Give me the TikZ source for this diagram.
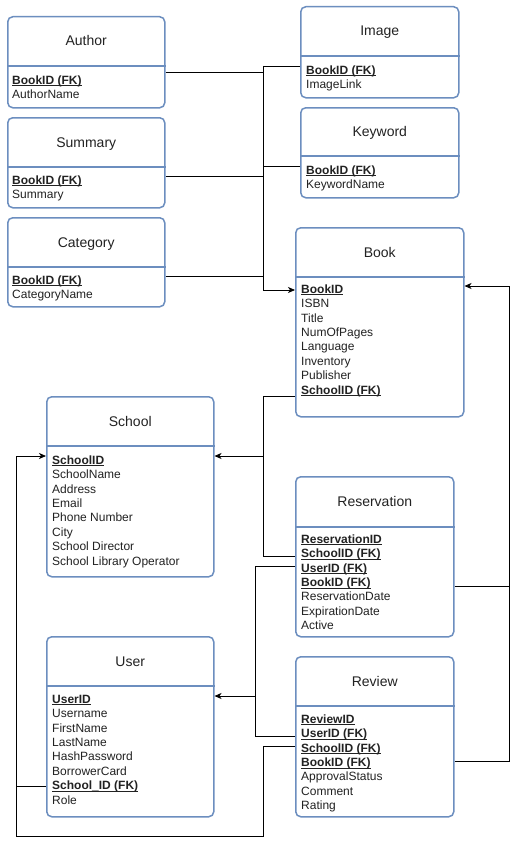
\documentclass[tikz,border=0pt]{standalone}
\usepackage{fontspec}
\setmainfont{Liberation Sans}
\usetikzlibrary{arrows.meta}
\definecolor{ebl}{HTML}{6C8EBF}
\definecolor{etx}{HTML}{222222}
\newcommand\keyul[1]{\underline{\smash{#1}}}
\begin{document}
\begin{tikzpicture}[x=1pt,y=-1pt,
 entity/.style={draw=ebl, line width=1.5pt, rounded corners=5pt, fill=white, anchor=north west, inner sep=0pt},
 hline/.style={draw=ebl, line width=1.5pt},
 ttl/.style={font=\fontsize{14}{16}\selectfont, text=etx, inner sep=0pt, text height=10pt, text depth=3pt, yshift=-1.5pt},
 row/.style={font=\fontsize{12}{14}\selectfont, text=etx, anchor=west, inner sep=0pt, text height=9pt, text depth=3pt, yshift=-1.2pt},
 key/.style={font=\fontsize{12}{14}\selectfont\bfseries, text=etx, anchor=west, inner sep=0pt, text height=9pt, text depth=3pt, yshift=-1.2pt},
 conn/.style={draw=black, line width=0.8pt},
 arr/.style={conn, -{Stealth[length=7pt,width=6pt,inset=2pt]}}]
\useasboundingbox[fill=white] (0,0) rectangle (530,843);

% ---------- Author
\node[entity, minimum width=157pt, minimum height=91pt] (author) at (7,16) {};
\draw[hline] (author.west |- 0,66) -- (author.east |- 0,66);
\node[ttl] (authorT) at (author.north |- 0,41) {Author};
\node[key] (au1) at (12,80) {\keyul{BookID (FK)}};
\node[row] (au2) at (12,94.4) {AuthorName};

% ---------- Summary
\node[entity, minimum width=157pt, minimum height=90pt] (summary) at (7,117) {};
\draw[hline] (summary.west |- 0,167) -- (summary.east |- 0,167);
\node[ttl] (summaryT) at (summary.north |- 0,142) {Summary};
\node[key] (su1) at (12,180) {\keyul{BookID (FK)}};
\node[row] (su2) at (12,194.4) {Summary};

% ---------- Category
\node[entity, minimum width=157pt, minimum height=89pt] (category) at (7,217) {};
\draw[hline] (category.west |- 0,267) -- (category.east |- 0,267);
\node[ttl] (categoryT) at (category.north |- 0,242) {Category};
\node[key] (ca1) at (12,280) {\keyul{BookID (FK)}};
\node[row] (ca2) at (12,294.4) {CategoryName};

% ---------- Image
\node[entity, minimum width=158pt, minimum height=91pt] (image) at (300,6) {};
\draw[hline] (image.west |- 0,56) -- (image.east |- 0,56);
\node[ttl] (imageT) at (image.north |- 0,31) {Image};
\node[key] (im1) at (306,70) {\keyul{BookID (FK)}};
\node[row] (im2) at (306,84.4) {ImageLink};

% ---------- Keyword
\node[entity, minimum width=158pt, minimum height=90pt] (keyword) at (300,107) {};
\draw[hline] (keyword.west |- 0,156) -- (keyword.east |- 0,156);
\node[ttl] (keywordT) at (keyword.north |- 0,131) {Keyword};
\node[key] (kw1) at (306,170) {\keyul{BookID (FK)}};
\node[row] (kw2) at (306,184.4) {KeywordName};

% ---------- Book
\node[entity, minimum width=168pt, minimum height=189pt] (book) at (295,227) {};
\draw[hline] (book.west |- 0,277) -- (book.east |- 0,277);
\node[ttl] (bookT) at (book.north |- 0,252) {Book};
\node[key] (bk1) at (301,289) {\keyul{BookID}};
\node[row] (bk2) at (301,303.4) {ISBN};
\node[row] (bk3) at (301,317.8) {Title};
\node[row] (bk4) at (301,332.2) {NumOfPages};
\node[row] (bk5) at (301,346.6) {Language};
\node[row] (bk6) at (301,361) {Inventory};
\node[row] (bk7) at (301,375.4) {Publisher};
\node[key] (bk8) at (301,389.8) {\keyul{SchoolID (FK)}};

% ---------- School
\node[entity, minimum width=167pt, minimum height=180pt] (school) at (46,396) {};
\draw[hline] (school.west |- 0,446) -- (school.east |- 0,446);
\node[ttl] (schoolT) at (school.north |- 0,421) {School};
\node[key] (sc1) at (52,460) {\keyul{SchoolID}};
\node[row] (sc2) at (52,474.4) {SchoolName};
\node[row] (sc3) at (52,488.8) {Address};
\node[row] (sc4) at (52,503.2) {Email};
\node[row] (sc5) at (52,517.6) {Phone Number};
\node[row] (sc6) at (52,532) {City};
\node[row] (sc7) at (52,546.4) {School Director};
\node[row] (sc8) at (52,560.8) {School Library Operator};

% ---------- Reservation
\node[entity, minimum width=158pt, minimum height=160pt] (reservation) at (295,476) {};
\draw[hline] (reservation.west |- 0,527) -- (reservation.east |- 0,527);
\node[ttl] (reservationT) at (reservation.north |- 0,501) {Reservation};
\node[key] (re1) at (301,539) {\keyul{ReservationID}};
\node[key] (re2) at (301,553.4) {\keyul{SchoolID (FK)}};
\node[key] (re3) at (301,567.8) {\keyul{UserID (FK)}};
\node[key] (re4) at (301,582.2) {\keyul{BookID (FK)}};
\node[row] (re5) at (301,596.6) {ReservationDate};
\node[row] (re6) at (301,611) {ExpirationDate};
\node[row] (re7) at (301,625.4) {Active};

% ---------- User
\node[entity, minimum width=167pt, minimum height=180pt] (user) at (46,636) {};
\draw[hline] (user.west |- 0,686) -- (user.east |- 0,686);
\node[ttl] (userT) at (user.north |- 0,661) {User};
\node[key] (us1) at (52,699) {\keyul{UserID}};
\node[row] (us2) at (52,713.4) {Username};
\node[row] (us3) at (52,727.8) {FirstName};
\node[row] (us4) at (52,742.2) {LastName};
\node[row] (us5) at (52,756.6) {HashPassword};
\node[row] (us6) at (52,771) {BorrowerCard};
\node[key] (us7) at (52,785.4) {\keyul{School\_ID (FK)}};
\node[row] (us8) at (52,799.8) {Role};

% ---------- Review
\node[entity, minimum width=158pt, minimum height=160pt] (review) at (295,656) {};
\draw[hline] (review.west |- 0,706) -- (review.east |- 0,706);
\node[ttl] (reviewT) at (review.north |- 0,681) {Review};
\node[key] (rv1) at (301,719) {\keyul{ReviewID}};
\node[key] (rv2) at (301,733.4) {\keyul{UserID (FK)}};
\node[key] (rv3) at (301,747.8) {\keyul{SchoolID (FK)}};
\node[key] (rv4) at (301,762.2) {\keyul{BookID (FK)}};
\node[row] (rv5) at (301,776.6) {ApprovalStatus};
\node[row] (rv6) at (301,791) {Comment};
\node[row] (rv7) at (301,805.4) {Rating};

% ---------- connector routing points
\coordinate (busA) at (263,0);
\coordinate (busU) at (255,0);
\coordinate (busR) at (509,0);
\coordinate (busL) at (16,0);
\coordinate (bottom) at (0,836);

% Book satellites
\draw[conn] (author.east |- 0,72) -- (busA |- 0,72);
\draw[conn] (image.west |- 0,66) -- (busA |- 0,66);
\draw[conn] (keyword.west |- 0,166) -- (busA |- 0,166);
\draw[conn] (summary.east |- 0,176) -- (busA |- 0,176);
\draw[conn] (category.east |- 0,276) -- (busA |- 0,276);
\draw[arr] (busA |- 0,66) -- (busA |- 0,290) -- (book.west |- 0,290);

% School references
\draw[conn] (book.west |- 0,396) -- (busA |- 0,396) -- (busA |- 0,556) -- (reservation.west |- 0,556);
\draw[arr] (busA |- 0,456) -- (school.east |- 0,456);

% User references
\draw[conn] (reservation.west |- 0,566) -- (busU |- 0,566) -- (busU |- 0,736) -- (review.west |- 0,736);
\draw[arr] (busU |- 0,696) -- (user.east |- 0,696);

% Review / User school
\draw[conn] (review.west |- 0,746) -- (busA |- 0,746) -- (busA |- bottom) -- (busL |- bottom) -- (busL |- 0,456);
\draw[arr] (busL |- 0,456) -- (school.west |- 0,456);
\draw[conn] (user.west |- 0,786) -- (busL |- 0,786);

% Book references (right side)
\draw[conn] (reservation.east |- 0,586) -- (busR |- 0,586);
\draw[arr] (review.east |- 0,761) -- (busR |- 0,761) -- (busR |- 0,286) -- (book.east |- 0,286);
\end{tikzpicture}
\end{document}
